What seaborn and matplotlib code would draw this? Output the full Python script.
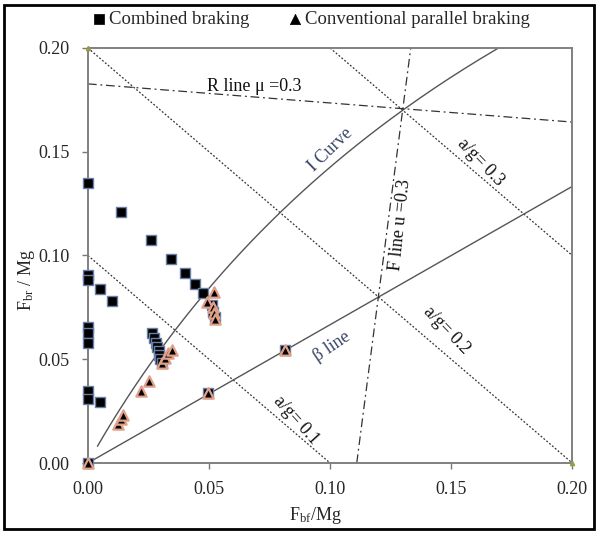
import numpy as np
import pandas as pd
import matplotlib
matplotlib.use("Agg")
import matplotlib.pyplot as plt
from matplotlib.patches import Rectangle
import seaborn as sns

sns.set_style("white")
plt.rcParams["font.family"] = ["Liberation Serif", "DejaVu Serif"]
plt.rcParams["mathtext.default"] = "regular"

# ---- data ----
comb_x = [0.0, 0.0135, 0.026, 0.0342, 0.0402, 0.0443, 0.0477, 0.0511, 0.0518, 0.0525,
          0.0, 0.0, 0.005, 0.0098, 0.0, 0.0, 0.0, 0.0263, 0.0273, 0.0281, 0.0287, 0.0292,
          0.0295, 0.0298, 0.0305, 0.0, 0.0, 0.0052, 0.0497, 0.0814, 0.0]
comb_y = [0.135, 0.121, 0.1075, 0.0983, 0.0914, 0.0861, 0.0818, 0.0761, 0.0729, 0.0705,
          0.0906, 0.088, 0.0838, 0.078, 0.0657, 0.0628, 0.0576, 0.0628, 0.0601, 0.058, 0.056, 0.0541,
          0.052, 0.050, 0.0483, 0.0345, 0.031, 0.0292, 0.0336, 0.0545, 0.0]

conv_x = [0.0, 0.0125, 0.0135, 0.0146, 0.0219, 0.0252, 0.0304, 0.0318, 0.0332, 0.0346,
          0.049, 0.0522, 0.0518, 0.0522, 0.0525, 0.0497, 0.0814]
conv_y = [0.0, 0.019, 0.021, 0.0231, 0.0347, 0.0397, 0.048, 0.0504, 0.0529, 0.0545,
          0.0778, 0.0826, 0.0753, 0.0721, 0.0692, 0.0336, 0.0545]

x_ticks = [0.00, 0.05, 0.10, 0.15, 0.20]
y_ticks = [0.00, 0.05, 0.10, 0.15, 0.20]

ag_levels = [0.1, 0.2, 0.3]          # a/g lines: Fbf + Fbr = a/g
beta_end = [(0.0, 0.0), (0.2, 0.1333)]
f_line = [(0.111, 0.0), (0.1333, 0.2)]
r_line = [(0.0, 0.1827), (0.2, 0.1643)]
b_L, a_L, h_L = 0.3233, 0.6767, 0.3667

fig = plt.figure(figsize=(5.98, 5.33), dpi=100)
ax = fig.add_axes([0.147, 0.1313, 0.81, 0.7787])

line_col = "#333333"
# a/g lines
for c in ag_levels:
    xs = [max(0.0, c - 0.2), min(c, 0.2)]
    ys = [c - xs[0], c - xs[1]]
    ax.plot(xs, ys, color=line_col, lw=0.9, ls=(0, (1.5, 1.5)), zorder=1)
# beta line
ax.plot([p[0] for p in beta_end], [p[1] for p in beta_end], color="#555555", lw=1.0, zorder=1)
# I curve
z = np.linspace(0.012, 0.3705, 200)
ax.plot(z * (b_L + z * h_L), z * (a_L - z * h_L), color="#555555", lw=1.0, zorder=1)
# F and R lines
dd = (0, (7, 3, 1.5, 3))
ax.plot([p[0] for p in f_line], [p[1] for p in f_line], color=line_col, lw=0.9, ls=dd, zorder=1)
ax.plot([p[0] for p in r_line], [p[1] for p in r_line], color=line_col, lw=0.9, ls=dd, zorder=1)
# small corner markers
ax.plot([0.0, 0.2], [0.2, 0.0], ls="none", marker="^", ms=3, color="#9a9a40", zorder=3, clip_on=False)

df_c = pd.DataFrame({"x": comb_x, "y": comb_y})
df_t = pd.DataFrame({"x": conv_x, "y": conv_y})
sns.scatterplot(data=df_c, x="x", y="y", marker="s", s=60, color="black",
                edgecolor="#6a7fa6", linewidth=1.0, ax=ax, zorder=4, clip_on=False,
                label="Combined braking")
sns.scatterplot(data=df_t, x="x", y="y", marker="^", s=55, color="black",
                edgecolor="#e0a088", linewidth=1.6, ax=ax, zorder=5, clip_on=False,
                label="Conventional parallel braking")

ax.set_xlim(0, 0.2)
ax.set_ylim(0, 0.2)
ax.set_xticks(x_ticks)
ax.set_yticks(y_ticks)
ax.xaxis.set_major_formatter(matplotlib.ticker.FormatStrFormatter("%.2f"))
ax.yaxis.set_major_formatter(matplotlib.ticker.FormatStrFormatter("%.2f"))
ax.tick_params(axis="x", direction="out", length=4, width=1, color="#777777",
               labelsize=13, pad=9, bottom=True)
ax.tick_params(axis="y", direction="out", length=4, width=1, color="#777777",
               labelsize=13, pad=9, left=True)
for sp in ax.spines.values():
    sp.set_color("#808080")
    sp.set_linewidth(1.4)

ax.set_xlabel("F$_{bf}$/Mg", fontsize=13)
ax.xaxis.set_label_coords(0.47, -0.10)
ax.set_ylabel("F$_{br}$ / Mg", fontsize=13)
ax.yaxis.set_label_coords(-0.105, 0.44)

tc = "#111111"
blue = "#3b4768"
fs = 13
ax.text(0.0685, 0.1815, "R line \u03bc =0.3", fontsize=fs, color=tc, ha="center", va="center")
ax.text(0.100, 0.151, "I Curve", fontsize=fs, color=blue, ha="center", va="center", rotation=44)
ax.text(0.129, 0.1147, "F line u =0.3", fontsize=fs, color=tc, ha="center", va="center", rotation=84)
ax.text(0.162, 0.145, "a/g= 0.3", fontsize=fs, color=tc, ha="center", va="center", rotation=-46)
ax.text(0.148, 0.064, "a/g= 0.2", fontsize=fs, color=tc, ha="center", va="center", rotation=-46)
ax.text(0.086, 0.0205, "a/g= 0.1", fontsize=fs, color=tc, ha="center", va="center", rotation=-48)
ax.text(0.101, 0.056, "\u03b2 line", fontsize=fs, color=blue, ha="center", va="center", rotation=34)

leg = ax.legend(loc="lower left", bbox_to_anchor=(-0.02, 1.022), ncol=2, frameon=False,
                fontsize=13.5, handletextpad=0.05, columnspacing=1.9, borderaxespad=0.2,
                handlelength=1.0)
for h in leg.legend_handles:
    h.set_edgecolor("black")
    h.set_linewidth(0.5)
    h.set_sizes([55])

fig.patches.append(Rectangle((0.007, 0.008), 0.986, 0.982, transform=fig.transFigure,
                             fill=False, edgecolor="black", linewidth=2.0))

fig.savefig("out.png", dpi=100)
